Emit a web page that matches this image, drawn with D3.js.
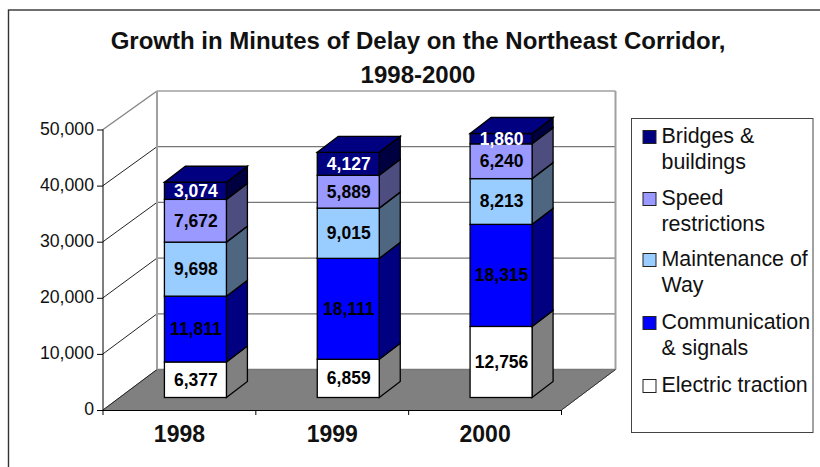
<!DOCTYPE html>
<html>
<head>
<meta charset="utf-8">
<style>
html, body { margin: 0; padding: 0; background: #fff; }
svg { display: block; }
text { font-family: "Liberation Sans", Arial, sans-serif; }
</style>
<script src="https://cdn.jsdelivr.net/npm/d3@7"></script>
</head>
<body>
<svg></svg>
<script>
var years = ["1998", "1999", "2000"];
var seriesNames = ["Electric traction", "Communication & signals", "Maintenance of Way", "Speed restrictions", "Bridges & buildings"];
var electricTraction = [6377, 6859, 12756];
var communicationSignals = [11811, 18111, 18315];
var maintenanceOfWay = [9698, 9015, 8213];
var speedRestrictions = [7672, 5889, 6240];
var bridgesBuildings = [3074, 4127, 1860];
var yTicks = [0, 10000, 20000, 30000, 40000, 50000];
var titleLines = ["Growth in Minutes of Delay on the Northeast Corridor,", "1998-2000"];
var legendLines = [["Bridges &", "buildings"], ["Speed", "restrictions"], ["Maintenance of", "Way"], ["Communication", "& signals"], ["Electric traction"]];

var faceColors = ["#ffffff", "#0000ff", "#99ccff", "#9999ff", "#000080"];
var sideColors = ["#808080", "#000080", "#4f6680", "#4d4d80", "#000040"];
var textColors = ["#000", "#000", "#000", "#000", "#fff"];

var svgWidth = 820;
var svgHeight = 467;

/* 3d box of the plot: front axis plane plus the back wall, which is drawn a bit shorter */
var plot = {left: 103, right: 561.5, bottom: 410, top: 129.5};
var back = {left: 157, right: 615.5, bottom: 369.5, top: 91};

var svg = d3.select("svg")
    .attr("width", svgWidth)
    .attr("height", svgHeight);

var x = d3.scaleBand().domain(years).range([plot.left, plot.right]);
var y = d3.scaleLinear().domain([0, 50000]).range([plot.bottom, plot.top]);
var yBack = d3.scaleLinear().domain([0, 50000]).range([back.bottom, back.top]);
// bars stand between the two planes
var yBar = d3.scaleLinear().domain([0, 50000]).range([397.5, 118.9]);

function pts(list) {
  return list.map(function(p) { return p[0] + "," + p[1]; }).join(" ");
}

/* page frame */
svg.append("rect")
    .attr("x", 8.5).attr("y", 10)
    .attr("width", 830).attr("height", 470)
    .attr("fill", "#fff").attr("stroke", "#333").attr("stroke-width", 1.4);

/* floor and walls */
var grey = "#868686";

svg.append("polygon")
    .attr("points", pts([[plot.left, plot.bottom], [back.left, back.bottom],
      [back.right, back.bottom], [plot.right, plot.bottom]]))
    .attr("fill", "#808080")
    .attr("stroke", "#808080");

yTicks.forEach(function(t) {
  svg.append("line")
      .attr("x1", plot.left).attr("y1", y(t))
      .attr("x2", back.left).attr("y2", yBack(t))
      .attr("stroke", t === 50000 ? grey : "#222")
      .attr("stroke-width", t === 50000 ? 1.4 : 1);
  svg.append("line")
      .attr("x1", back.left).attr("y1", yBack(t))
      .attr("x2", back.right).attr("y2", yBack(t))
      .attr("stroke", t === 50000 ? "#a0a0a0" : "#777")
      .attr("stroke-width", t === 50000 ? 1.6 : 1.3);
});

svg.append("line")
    .attr("x1", back.left).attr("x2", back.left)
    .attr("y1", back.top).attr("y2", back.bottom)
    .attr("stroke", "#a0a0a0").attr("stroke-width", 2);
svg.append("line")
    .attr("x1", back.right).attr("x2", back.right)
    .attr("y1", back.top).attr("y2", back.bottom)
    .attr("stroke", "#a0a0a0").attr("stroke-width", 2);
svg.append("line")
    .attr("x1", plot.right).attr("x2", back.right)
    .attr("y1", plot.bottom).attr("y2", back.bottom)
    .attr("stroke", "#333");

/* stacked bars */
var rows = years.map(function(yr, i) {
  var o = {year: yr};
  o[seriesNames[0]] = electricTraction[i];
  o[seriesNames[1]] = communicationSignals[i];
  o[seriesNames[2]] = maintenanceOfWay[i];
  o[seriesNames[3]] = speedRestrictions[i];
  o[seriesNames[4]] = bridgesBuildings[i];
  return o;
});
var stacked = d3.stack().keys(seriesNames)(rows);

var barW = 62;
var barDepth = {x: 21, y: -16};
var barOffX = 16;

function barX(yr) {
  return x(yr) + x.bandwidth() / 2 - barW / 2 + barOffX;
}

var barG = svg.append("g").attr("stroke", "#000").attr("stroke-width", 1.3).attr("stroke-linejoin", "miter");

stacked.forEach(function(layer, s) {
  layer.forEach(function(d) {
    var x0 = barX(d.data.year);
    var x1 = x0 + barW;
    var yb = yBar(d[0]);
    var yt = yBar(d[1]);
    barG.append("polygon")
        .attr("points", pts([[x1, yb], [x1 + barDepth.x, yb + barDepth.y], [x1 + barDepth.x, yt + barDepth.y], [x1, yt]]))
        .attr("fill", sideColors[s]);
    barG.append("rect")
        .attr("x", x0).attr("y", yt)
        .attr("width", barW).attr("height", yb - yt)
        .attr("fill", faceColors[s]);
    if (s === seriesNames.length - 1) {
      barG.append("polygon")
          .attr("points", pts([[x0, yt], [x0 + barDepth.x, yt + barDepth.y], [x1 + barDepth.x, yt + barDepth.y], [x1, yt]]))
          .attr("fill", faceColors[s]);
    }
  });
});

/* value labels, drawn after all bars */
stacked.forEach(function(layer, s) {
  svg.append("g").selectAll("text")
      .data(layer)
      .enter()
      .append("text")
      .attr("x", function(d) { return barX(d.data.year) + barW / 2 + 0.5; })
      .attr("y", function(d) { return (yBar(d[0]) + yBar(d[1])) / 2 + 6; })
      .attr("text-anchor", "middle")
      .attr("font-size", 17.5)
      .attr("font-weight", "bold")
      .attr("fill", textColors[s])
      .text(function(d) { return d3.format(",")(d[1] - d[0]); });
});

/* axes */
var yAxis = svg.append("g")
    .attr("transform", "translate(" + plot.left + ",0)")
    .call(d3.axisLeft(y).tickValues(yTicks).tickFormat(d3.format(",")).tickSize(6).tickPadding(3));
yAxis.select(".domain").attr("stroke", "#000").attr("d", "M0," + y(50000) + "V" + y(0));
yAxis.selectAll("text").attr("font-size", 17.7).attr("font-family", "Liberation Sans").attr("fill", "#111").attr("dy", "0.26em");

var xAxis = svg.append("g")
    .attr("transform", "translate(0," + plot.bottom + ")")
    .call(d3.axisBottom(x).tickSize(0).tickPadding(16));
xAxis.select(".domain").attr("stroke", "#000").attr("d", "M" + plot.left + ",0.5H" + plot.right);
xAxis.selectAll("text").attr("font-size", 23).attr("font-weight", "bold").attr("font-family", "Liberation Sans").attr("fill", "#111");
x.domain().concat(["end"]).forEach(function(yr, i) {
  var xx = plot.left + i * x.bandwidth();
  xAxis.append("line").attr("x1", xx).attr("x2", xx).attr("y1", 0).attr("y2", 5).attr("stroke", "#000");
});

/* title */
svg.append("g").selectAll("text")
    .data(titleLines)
    .enter()
    .append("text")
    .attr("x", 418)
    .attr("y", function(d, i) { return 49 + i * 34; })
    .attr("text-anchor", "middle")
    .attr("font-size", 24)
    .attr("font-weight", "bold")
    .attr("fill", "#111")
    .text(function(d) { return d; });

/* legend */
var legendBox = {x: 631.5, y: 118.5, w: 181.5, h: 314};
svg.append("rect")
    .attr("x", legendBox.x).attr("y", legendBox.y)
    .attr("width", legendBox.w).attr("height", legendBox.h)
    .attr("fill", "#fff").attr("stroke", "#444");

var legendTop = [143, 205, 266, 329, 392];
var legendColor = faceColors.slice().reverse();
legendLines.forEach(function(lines, i) {
  var g = svg.append("g");
  g.append("rect")
      .attr("x", 643).attr("y", legendTop[i] - 12.5)
      .attr("width", 13).attr("height", 13)
      .attr("fill", legendColor[i])
      .attr("stroke", "#222").attr("stroke-width", 1);
  lines.forEach(function(line, j) {
    g.append("text")
        .attr("x", 661.5)
        .attr("y", legendTop[i] + j * 25.5)
        .attr("font-size", 21.4)
        .attr("fill", "#111")
        .text(line);
  });
});
</script>
</body>
</html>
